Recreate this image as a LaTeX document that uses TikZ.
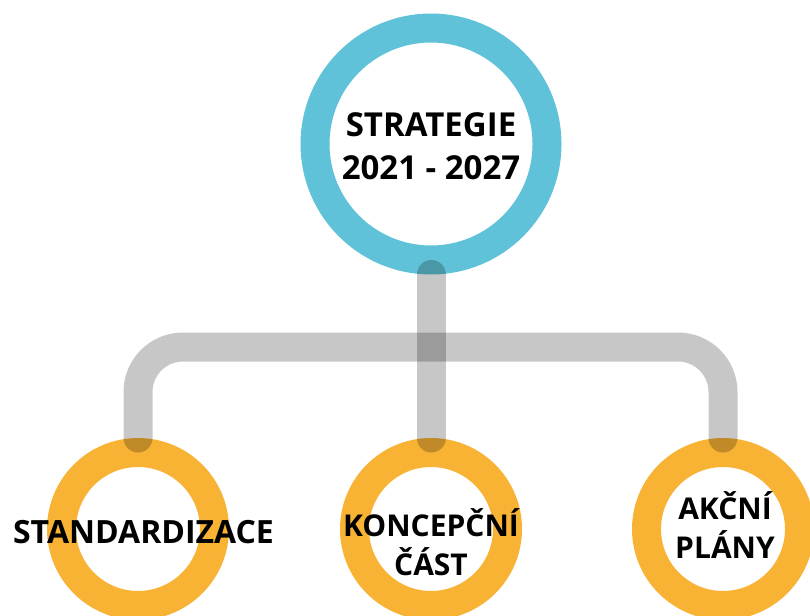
\documentclass[tikz,border=0pt]{standalone}
\usepackage{fontspec}
\setmainfont{Open Sans}
\definecolor{ringblue}{RGB}{95,194,216}
\definecolor{ringorange}{RGB}{248,178,52}
\begin{document}
\begin{tikzpicture}[x=1pt,y=-1pt,
  ring/.style={circle,draw,inner sep=0pt,line width=29pt},
  topring/.style={ring,draw=ringblue,fill=white,minimum size=232pt},
  subring/.style={ring,draw=ringorange,fill=white,minimum size=153pt},
  conn/.style={draw=black,draw opacity=0.22,line width=29pt,line cap=round},
  toplabel/.style={align=center,inner sep=0pt,font=\fontsize{33}{43}\selectfont\bfseries},
  sublabel/.style={align=center,inner sep=0pt,font=\fontsize{30}{39}\selectfont\bfseries}]
\useasboundingbox (0,0) rectangle (810,615);
\node[topring] (top) at (431,144) {};
\node[subring] (left) at (138,529) {};
\node[subring] (mid) at (431,529) {};
\node[subring] (right) at (723,529) {};
\coordinate (j) at (431,347);
\draw[conn] (top.south) -- (mid.north);
\draw[conn,rounded corners=45pt] (left.north) |- (j) -| (right.north);
\node[toplabel] (ttop) at (431,146.5) {STRATEGIE\\2021 - 2027};
\node[sublabel,font=\fontsize{32}{39}\selectfont\bfseries] (tleft) at (143.5,532.5) {STANDARDIZACE};
\node[sublabel] (tmid) at (431,542.5) {KONCEPČNÍ\\ČÁST};
\node[sublabel] (tright) at (725,525.5) {AKČNÍ\\PLÁNY};
\end{tikzpicture}
\end{document}
